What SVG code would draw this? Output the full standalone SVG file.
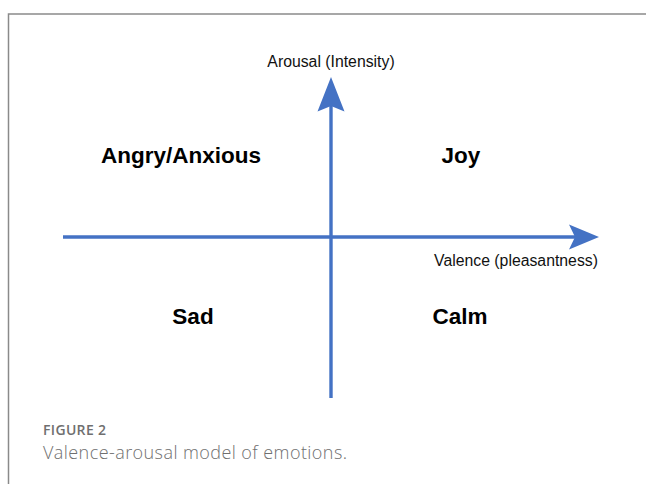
<svg xmlns="http://www.w3.org/2000/svg" width="646" height="484" viewBox="0 0 646 484">
<style>
.ax{stroke:#4472C4;stroke-width:3.4;fill:none}
.ah{fill:#4472C4;stroke:none}
.lbl{font-family:"Liberation Sans",Arial,sans-serif;font-size:15.8px;fill:#111;text-anchor:middle}
.q{font-family:"Liberation Sans",Arial,sans-serif;font-size:22.5px;font-weight:bold;fill:#000;text-anchor:middle}
.cap{font-family:"Open Sans","Lato",sans-serif;fill:#6f6f6f}
</style>
<rect width="646" height="484" fill="#fff"/>
<path d="M8.5 484 V14 H646" fill="none" stroke="#8a8a8a" stroke-width="1.5"/>
<g id="connectors">
<line class="ax" x1="63" y1="237" x2="576" y2="237"/>
<path class="ah" d="M599 237 L569 224.5 L575 237 L569 249.5 Z"/>
<line class="ax" x1="331" y1="398" x2="331" y2="104"/>
<path class="ah" d="M331 77 L317.5 111.5 L331 106 L344.5 111.5 Z"/>
</g>
<g id="arousal-label"><text class="lbl" x="331" y="66.5">Arousal (Intensity)</text></g>
<g id="valence-label"><text class="lbl" x="516" y="266">Valence (pleasantness)</text></g>
<g id="angry"><text class="q" x="181" y="163">Angry/Anxious</text></g>
<g id="joy"><text class="q" x="461" y="163">Joy</text></g>
<g id="sad"><text class="q" x="193" y="324">Sad</text></g>
<g id="calm"><text class="q" x="460" y="324">Calm</text></g>
<g id="caption">
<text class="cap" x="43" y="435" font-size="14" font-weight="600" textLength="63">FIGURE 2</text>
<text class="cap" x="43" y="459" font-size="18" font-weight="300" textLength="304">Valence-arousal model of emotions.</text>
</g>
</svg>
